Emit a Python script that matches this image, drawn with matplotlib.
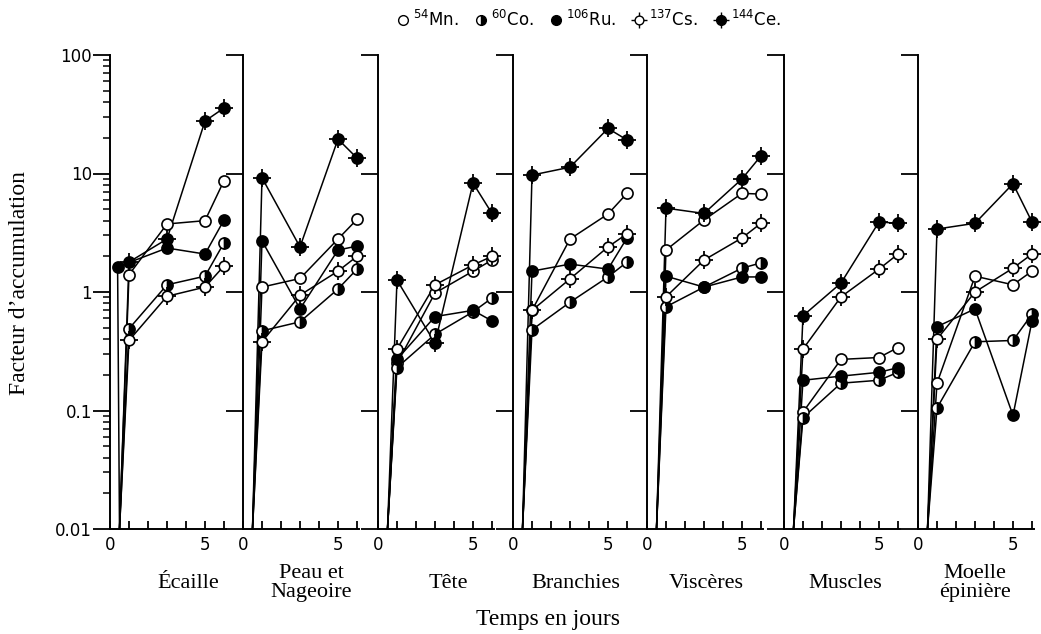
import matplotlib
matplotlib.use("Agg")
import matplotlib.pyplot as plt
from matplotlib.lines import Line2D
from matplotlib.legend_handler import HandlerTuple
import matplotlib.transforms as mtransforms
from matplotlib.ticker import LogLocator, NullFormatter, FixedLocator, FixedFormatter

# ---------------- data ----------------
panels = ["Écaille", "Peau et\nNageoire", "Tête", "Branchies",
          "Viscères", "Muscles", "Moelle\népinière"]
days = [1, 3, 5, 6]
start_day = 0.5
start_value = 0.01

mn54 = [[1.4, 3.75, 4.0, 8.7],
        [1.1, 1.3, 2.8, 4.1],
        [0.25, 0.98, 1.5, 1.86],
        [0.7, 2.8, 4.55, 6.8],
        [2.26, 4.05, 6.8, 6.7],
        [0.097, 0.27, 0.28, 0.34],
        [0.17, 1.36, 1.15, 1.5]]
co60 = [[0.49, 1.15, 1.36, 2.6],
        [0.47, 0.56, 1.06, 1.56],
        [0.23, 0.44, 0.68, 0.89],
        [0.48, 0.82, 1.34, 1.79],
        [0.75, 1.1, 1.59, 1.76],
        [0.087, 0.17, 0.18, 0.21],
        [0.105, 0.38, 0.39, 0.65]]
ru106 = [[1.63, 2.35, 2.09, 4.05],
         [2.7, 0.72, 2.26, 2.44],
         [0.27, 0.62, 0.7, 0.57],
         [1.5, 1.72, 1.56, 2.86],
         [1.36, 1.1, 1.34, 1.34],
         [0.18, 0.195, 0.21, 0.23],
         [0.51, 0.72, 0.091, 0.57]]
cs137 = [[0.39, 0.92, 1.1, 1.66],
         [0.38, 0.94, 1.5, 2.0],
         [0.33, 1.15, 1.69, 2.0],
         [0.7, 1.29, 2.4, 3.1],
         [0.91, 1.86, 2.86, 3.8],
         [0.33, 0.91, 1.56, 2.09],
         [0.4, 1.0, 1.59, 2.09]]
ce144 = [[1.79, 2.8, 27.7, 35.7],
         [9.2, 2.4, 19.5, 13.5],
         [1.26, 0.37, 8.3, 4.6],
         [9.7, 11.3, 24.0, 19.2],
         [5.1, 4.6, 9.0, 14.1],
         [0.63, 1.19, 3.9, 3.8],
         [3.4, 3.8, 8.2, 3.9]]
ru_days_ecaille = [0.4, 3, 5, 6]

legend_labels = [r"$^{54}$Mn.", r"$^{60}$Co.", r"$^{106}$Ru.", r"$^{137}$Cs.", r"$^{144}$Ce."]
y_ticks = [0.01, 0.1, 1, 10, 100]
y_tick_labels = ["0.01", "0.1", "1", "10", "100"]

# ---------------- layout / style ----------------
W, H = 1041, 634
fig = plt.figure(figsize=(W / 100, H / 100), dpi=100)

left_px = [110, 243, 378, 513, 647, 784, 918]
label_x = [4.1, 3.6, 3.7, 3.3, 3.1, 3.2, 3.0]
xmax = 6.1
px_per_day = 19
ax_bottom = (H - 529) / H
ax_top = (H - 55) / H

SERIF = ["Liberation Serif", "DejaVu Serif"]
SANS = ["DejaVu Sans"]
LW = 1.1
MS = 8

def draw_marker(ax, x, y, kind, ms=MS, **kw):
    if kind == "mn":
        ax.plot(x, y, ls="none", marker="o", ms=ms, mfc="white", mec="black", mew=1.2, **kw)
    elif kind == "co":
        ax.plot(x, y, ls="none", marker="o", ms=ms, fillstyle="right", mfc="black",
                mfcalt="white", mec="black", mew=1.2, **kw)
    elif kind == "ru":
        ax.plot(x, y, ls="none", marker="o", ms=ms, mfc="black", mec="black", mew=1.2, **kw)
    elif kind == "cs":
        ax.plot(x, y, ls="none", marker="+", ms=ms * 1.65, mec="black", mew=1.3, **kw)
        ax.plot(x, y, ls="none", marker="o", ms=ms * 0.95, mfc="white", mec="black", mew=1.2, **kw)
    elif kind == "ce":
        ax.plot(x, y, ls="none", marker="+", ms=ms * 1.65, mec="black", mew=1.3, **kw)
        ax.plot(x, y, ls="none", marker="o", ms=ms, mfc="black", mec="black", mew=1.2, **kw)

series = [("mn", mn54), ("co", co60), ("ru", ru106), ("cs", cs137), ("ce", ce144)]

for i, name in enumerate(panels):
    ax = fig.add_axes([left_px[i] / W, ax_bottom, xmax * px_per_day / W, ax_top - ax_bottom])
    ax.set_yscale("log")
    ax.set_ylim(0.01, 100)
    ax.set_xlim(0, xmax)
    ax.patch.set_alpha(0)
    for kind, data in series:
        xs = ru_days_ecaille if (i == 0 and kind == "ru") else days
        vals = data[i]
        ax.plot([start_day] + list(xs), [start_value] + list(vals), color="black",
                lw=LW, zorder=2, clip_on=False)
        draw_marker(ax, xs, vals, kind, zorder=3, clip_on=False)

    for s in ["top", "right"]:
        ax.spines[s].set_visible(False)
    for s in ["left", "bottom"]:
        ax.spines[s].set_linewidth(1.4)

    ax.yaxis.set_major_locator(FixedLocator(y_ticks))
    ax.tick_params(axis="y", which="major", direction="out", length=12, width=1.3)
    if i == 0:
        ax.yaxis.set_major_formatter(FixedFormatter(y_tick_labels))
        ax.yaxis.set_minor_locator(LogLocator(base=10, subs=range(2, 10)))
        ax.yaxis.set_minor_formatter(NullFormatter())
        ax.tick_params(axis="y", which="minor", direction="out", length=5, width=1.1)
        ax.tick_params(axis="y", which="major", labelsize=12, pad=1)
        for t in ax.get_yticklabels():
            t.set_family(SANS)
    else:
        ax.yaxis.set_minor_locator(FixedLocator([]))
        ax.tick_params(axis="y", which="major", labelleft=False)

    ax.set_xticks(range(0, 7))
    ax.set_xticklabels(["0", "", "", "", "", "5", ""])
    ax.tick_params(axis="x", direction="in", length=6, width=1.3, labelsize=12, pad=5)
    for t in ax.get_xticklabels():
        t.set_family(SANS)

    trans = mtransforms.blended_transform_factory(ax.transData, fig.transFigure)
    ax.text(label_x[i], (H - 583) / H, name, transform=trans, ha="center", va="center",
            family=SERIF, fontsize=16, linespacing=0.95)

fig.text(548 / W, (H - 620) / H, "Temps en jours", ha="center", va="center",
         family=SERIF, fontsize=17)
fig.text(20 / W, (H - 283) / H, "Facteur d\u2019accumulation", ha="center", va="center",
         rotation=90, family=SERIF, fontsize=17)

# legend
lms = 7
h_mn = Line2D([], [], ls="none", marker="o", ms=lms, mfc="white", mec="black", mew=1)
h_co = Line2D([], [], ls="none", marker="o", ms=lms, fillstyle="right", mfc="black",
              mfcalt="white", mec="black", mew=1)
h_ru = Line2D([], [], ls="none", marker="o", ms=lms, mfc="black", mec="black", mew=1)
h_cs = (Line2D([], [], ls="none", marker="+", ms=lms * 1.7, mec="black", mew=1),
        Line2D([], [], ls="none", marker="o", ms=lms * 0.9, mfc="white", mec="black", mew=1))
h_ce = (Line2D([], [], ls="none", marker="+", ms=lms * 1.7, mec="black", mew=1),
        Line2D([], [], ls="none", marker="o", ms=lms, mfc="black", mec="black", mew=1))
fig.legend([h_mn, h_co, h_ru, h_cs, h_ce], legend_labels, loc="center",
           bbox_to_anchor=(588 / W, (H - 20) / H), ncol=5, frameon=False,
           handler_map={tuple: HandlerTuple(ndivide=1)}, handlelength=0.9,
           handletextpad=0.15, columnspacing=0.9, prop={"family": SANS, "size": 12})

fig.savefig("out.png", dpi=100)
